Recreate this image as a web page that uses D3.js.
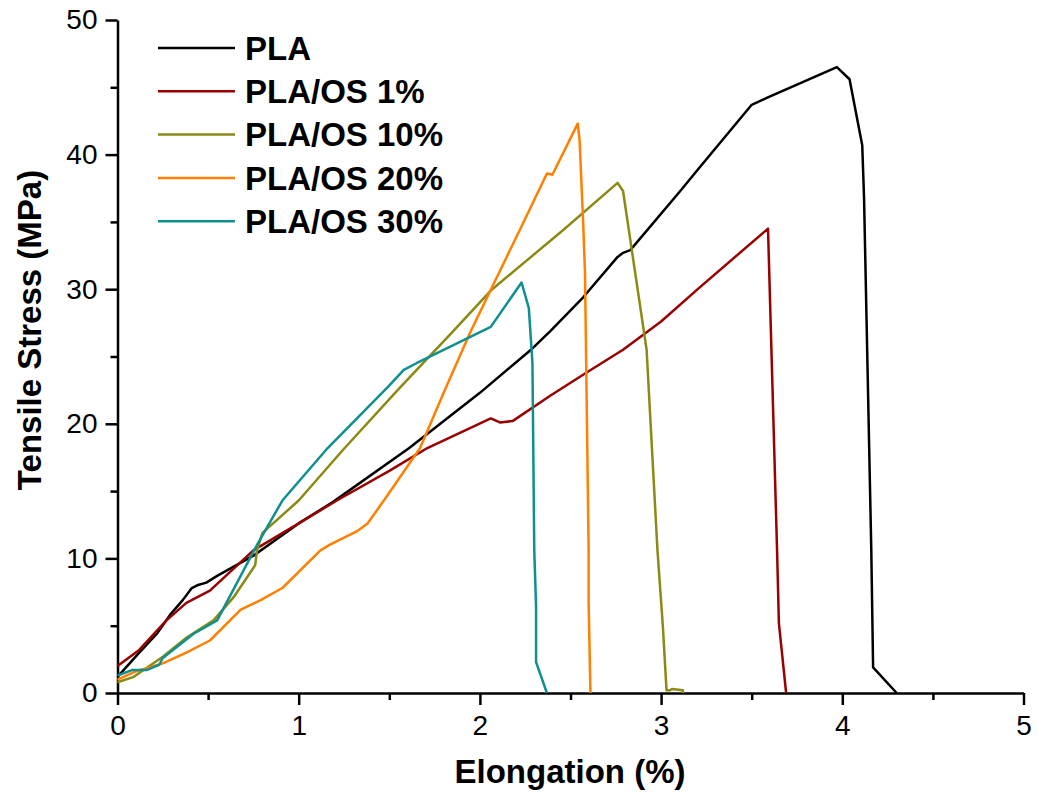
<!DOCTYPE html>
<html>
<head>
<meta charset="utf-8">
<script src="https://cdn.jsdelivr.net/npm/d3@7"></script>
<style>
    body { margin: 0; background: #fff; }
    text { font-family: "Liberation Sans", Arial, sans-serif; }
    .axis path, .axis line { stroke: #000; stroke-width: 2.5; }
    .axis text { font-size: 28px; fill: #000; }
</style>
</head>
<body>
<script>
// tensile curves, elongation (%) vs stress (MPa)
var plaX = [0, 0.12, 0.22, 0.29, 0.36, 0.41, 0.44, 0.49, 0.55, 0.75, 1.0, 1.19,
    1.61, 2.0, 2.29, 2.39, 2.57, 2.76, 2.79, 2.83, 3.10, 3.21, 3.50, 3.58, 3.97,
    4.04, 4.11, 4.12, 4.16, 4.17, 4.30];
var plaY = [1.2, 3.0, 4.45, 5.8, 6.9, 7.8, 8.0, 8.2, 8.7, 10.2, 12.6, 14.2,
    18.2, 22.3, 25.6, 26.9, 29.4, 32.4, 32.7, 32.9, 37.2, 39.0, 43.7, 44.2, 46.5,
    45.6, 40.7, 36.8, 10.6, 1.9, 0];

var os1X = [0, 0.12, 0.27, 0.38, 0.51, 0.75, 1.0, 1.21, 1.5, 1.71, 2.06, 2.11,
    2.18, 2.39, 2.6, 2.79, 3.0, 3.21, 3.59, 3.64, 3.65, 3.69];
var os1Y = [2.0, 3.2, 5.4, 6.7, 7.6, 10.6, 12.6, 14.3, 16.5, 18.2, 20.4, 20.1,
    20.2, 22.1, 23.9, 25.5, 27.6, 30.1, 34.5, 10.6, 5.2, 0];

var os10X = [0, 0.09, 0.25, 0.38, 0.53, 0.64, 0.73, 0.76, 0.77, 0.80, 1.0, 1.24,
    1.56, 1.84, 2.06, 2.46, 2.76, 2.79, 2.92, 2.98, 3.01, 3.03, 3.05, 3.06, 3.12,
    3.12];
var os10Y = [0.8, 1.2, 2.7, 4.1, 5.4, 7.1, 8.9, 9.5, 10.6, 11.9, 14.3, 18.0,
    22.7, 26.7, 29.9, 34.4, 37.9, 37.3, 25.5, 10.6, 4.9, 0.2, 0.2, 0.3, 0.2, 0];

var os20X = [0, 0.1, 0.25, 0.38, 0.51, 0.68, 0.79, 0.91, 1.0, 1.12, 1.17, 1.32,
    1.38, 1.47, 1.67, 1.80, 1.95, 2.22, 2.37, 2.40, 2.54, 2.55, 2.57, 2.58, 2.60,
    2.60, 2.61];
var os20Y = [1.0, 1.6, 2.2, 3.0, 3.9, 6.2, 6.9, 7.8, 9.0, 10.6, 11.0, 12.0,
    12.6, 14.3, 18.2, 22.3, 26.9, 34.4, 38.6, 38.5, 42.3, 41.1, 34.9, 31.2, 10.6,
    6.8, 0];

var os30X = [0, 0.08, 0.16, 0.23, 0.25, 0.42, 0.55, 0.77, 0.91, 1.16, 1.38,
    1.49, 1.58, 1.65, 2.06, 2.23, 2.27, 2.29, 2.30, 2.31, 2.31, 2.37];
var os30Y = [1.3, 1.7, 1.7, 2.1, 2.6, 4.4, 5.4, 11.0, 14.3, 18.2, 21.2,
    22.7, 24.0, 24.5, 27.2, 30.5, 28.6, 24.5, 10.6, 6.4, 2.3, 0];

var seriesNames = ["PLA", "PLA/OS 1%", "PLA/OS 10%", "PLA/OS 20%", "PLA/OS 30%"];
var seriesColors = ["#000000", "#990000", "#8a8a14", "#ff8000", "#0f8f8f"];
var seriesX = [plaX, os1X, os10X, os20X, os30X];
var seriesY = [plaY, os1Y, os10Y, os20Y, os30Y];

var xMajor = [0, 1, 2, 3, 4, 5];
var xMinor = [0.5, 1.5, 2.5, 3.5, 4.5];
var yMajor = [0, 10, 20, 30, 40, 50];
var yMinor = [5, 15, 25, 35, 45];

var width = 1037, height = 793;
var margin = {top: 20, right: 13.5, bottom: 100, left: 117.5};

var svg = d3.select("body").append("svg")
    .attr("width", width)
    .attr("height", height);

var x = d3.scaleLinear().domain([0, 5]).range([margin.left, width - margin.right]);
var y = d3.scaleLinear().domain([0, 50]).range([height - margin.bottom, margin.top]);

// minor ticks first, major axis drawn on top
svg.append("g")
    .attr("class", "axis")
    .attr("transform", "translate(0," + y(0) + ")")
    .call(d3.axisBottom(x).tickValues(xMinor).tickSize(7).tickFormat(""))
    .select(".domain").remove();
svg.append("g")
    .attr("class", "axis")
    .attr("transform", "translate(" + x(0) + ",0)")
    .call(d3.axisLeft(y).tickValues(yMinor).tickSize(7).tickFormat(""))
    .select(".domain").remove();

var xAxis = svg.append("g")
    .attr("class", "axis")
    .attr("transform", "translate(0," + y(0) + ")")
    .call(d3.axisBottom(x).tickValues(xMajor).tickSize(12).tickSizeOuter(0)
        .tickPadding(10).tickFormat(d3.format("d")));

var yAxis = svg.append("g")
    .attr("class", "axis")
    .attr("transform", "translate(" + x(0) + ",0)")
    .call(d3.axisLeft(y).tickValues(yMajor).tickSize(12).tickSizeOuter(0)
        .tickPadding(8).tickFormat(d3.format("d")));

var line = d3.line()
    .x(function(d) { return x(d[0]); })
    .y(function(d) { return y(d[1]); });

seriesNames.forEach(function(name, i) {
    var pts = seriesX[i].map(function(v, j) { return [v, seriesY[i][j]]; });
    svg.append("path")
        .datum(pts)
        .attr("fill", "none")
        .attr("stroke", seriesColors[i])
        .attr("stroke-width", 2.5)
        .attr("stroke-linejoin", "round")
        .attr("d", line);
});

// legend
var legend = svg.append("g");
seriesNames.forEach(function(name, i) {
    var ly = 48 + i * 43.3;
    legend.append("line")
        .attr("x1", 158).attr("x2", 235)
        .attr("y1", ly).attr("y2", ly)
        .attr("stroke", seriesColors[i])
        .attr("stroke-width", 2.5);
    legend.append("text")
        .attr("x", 245)
        .attr("y", ly)
        .attr("dy", "0.36em")
        .style("font-size", "33px")
        .style("font-weight", "bold")
        .text(name);
});

svg.append("text")
    .attr("x", 570)
    .attr("y", 783)
    .attr("text-anchor", "middle")
    .style("font-size", "33px")
    .style("font-weight", "bold")
    .text("Elongation (%)");

svg.append("text")
    .attr("transform", "translate(41," + 330 + ") rotate(-90)")
    .attr("text-anchor", "middle")
    .style("font-size", "33px")
    .style("font-weight", "bold")
    .text("Tensile Stress (MPa)");
</script>
</body>
</html>
